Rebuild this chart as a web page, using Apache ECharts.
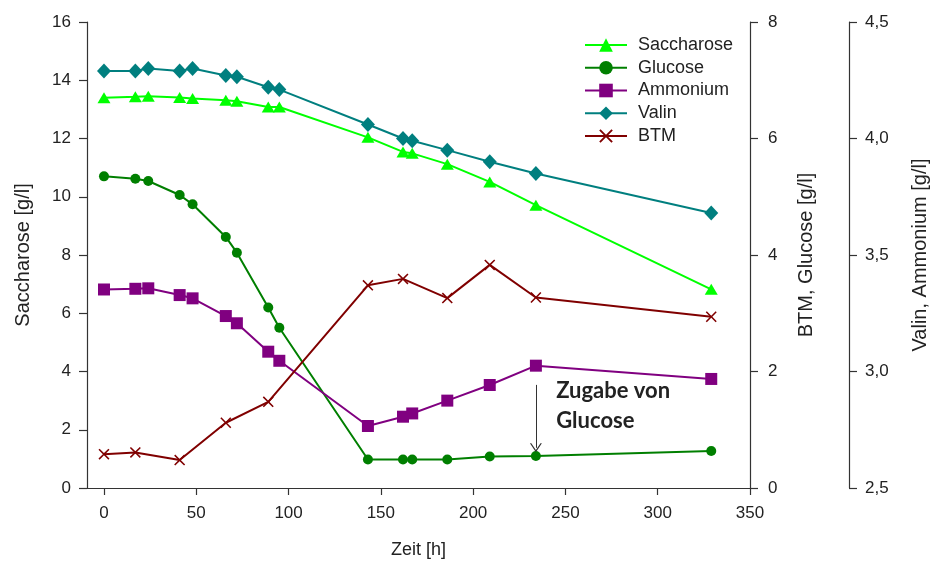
<!DOCTYPE html>
<html>
<head>
<meta charset="utf-8">
<script src="https://cdn.jsdelivr.net/npm/echarts@6/dist/echarts.min.js"></script>
<style>
  html, body { margin: 0; padding: 0; background: #ffffff; }
  #chart { width: 935px; height: 566px; }
</style>
</head>
<body>
<div id="chart"></div>
<script>
// Sampling times [h] shared by the substrate / amino acid measurements
const hours = [0, 17, 24, 41, 48, 66, 72, 89, 95, 143, 162, 167, 186, 209, 234, 329];
// Saccharose [g/l] (left axis)
const saccharose = [13.40, 13.43, 13.45, 13.41, 13.37, 13.31, 13.28, 13.08, 13.08, 12.04, 11.54, 11.49, 11.12, 10.51, 9.71, 6.82];
// Glucose [g/l] (middle axis)
const glucose = [5.35, 5.31, 5.27, 5.03, 4.87, 4.31, 4.04, 3.10, 2.75, 0.49, 0.49, 0.49, 0.49, 0.54, 0.55, 0.635];
// Ammonium [g/l] (outer right axis)
const ammonium = [3.352, 3.355, 3.357, 3.328, 3.314, 3.238, 3.207, 3.085, 3.046, 2.766, 2.806, 2.820, 2.875, 2.942, 3.025, 2.968];
// Valin [g/l] (outer right axis)
const valin = [4.29, 4.29, 4.30, 4.29, 4.30, 4.27, 4.265, 4.22, 4.21, 4.06, 4.00, 3.99, 3.95, 3.90, 3.85, 3.68];
// Biotrockenmasse: own sampling times
const btmHours = [0, 17, 41, 66, 89, 143, 162, 186, 209, 234, 329];
const btm = [0.58, 0.61, 0.48, 1.12, 1.48, 3.48, 3.59, 3.26, 3.83, 3.27, 2.94];
// Axis tick values
const timeTicks = [0, 50, 100, 150, 200, 250, 300, 350];
// Glucose feed marker (time, arrow from / to on the BTM/Glucose axis)
const feedHour = 234;
const feedArrow = [1.77, 0.69];
const feedText = 'Zugabe von\nGlucose';

const FONT = '"Liberation Sans", Arial, Helvetica, sans-serif';
const AXIS_COLOR = '#333333';
const TEXT_COLOR = '#222222';

const pairs = (xs, ys) => xs.map((x, i) => [x, ys[i]]);
const crossPath = 'path://M0,2 L2,0 L10,8 L18,0 L20,2 L12,10 L20,18 L18,20 L10,12 L2,20 L0,18 L8,10 Z';
const chevronPath = 'path://M0,10 L6,0 L12,10 L10.6,10 L6,2.6 L1.4,10 Z';

function lineSeries(name, color, yAxisIndex, data, symbol, size, extra) {
  return Object.assign({
    name, type: 'line', yAxisIndex, data,
    symbol, symbolSize: size,
    showAllSymbol: true,
    lineStyle: { color, width: 2 },
    itemStyle: { color, borderWidth: 0 },
    emphasis: { disabled: true },
    animation: false
  }, extra || {});
}

function yAxisBase(extra) {
  return Object.assign({
    type: 'value',
    nameLocation: 'middle',
    nameRotate: 90,
    nameTextStyle: { fontFamily: FONT, fontSize: 20, color: TEXT_COLOR },
    axisLine: { show: true, onZero: false, lineStyle: { color: AXIS_COLOR, width: 1.2 } },
    axisTick: { show: true, inside: false, length: 8, lineStyle: { color: AXIS_COLOR, width: 1.2 } },
    axisLabel: { fontFamily: FONT, fontSize: 17, color: TEXT_COLOR },
    splitLine: { show: false }
  }, extra);
}

const chart = echarts.init(document.getElementById('chart'), null, { renderer: 'canvas' });

const option = {
  backgroundColor: '#ffffff',
  animation: false,
  grid: { left: 87, right: 185, top: 22, bottom: 78, containLabel: false, outerBoundsMode: 'none' },
  legend: {
    orient: 'vertical',
    left: 579,
    top: 31,
    itemWidth: 42,
    itemHeight: 17,
    itemGap: 4.75,
    textStyle: { fontFamily: FONT, fontSize: 18, color: TEXT_COLOR, padding: [0, 0, 0, 6] },
    data: ['Saccharose', 'Glucose', 'Ammonium', 'Valin', 'BTM']
  },
  xAxis: {
    type: 'value',
    min: -9.2,
    max: 350,
    name: 'Zeit [h]',
    nameLocation: 'middle',
    nameGap: 53,
    nameTextStyle: { fontFamily: FONT, fontSize: 18, color: TEXT_COLOR },
    axisLine: { show: true, onZero: false, lineStyle: { color: AXIS_COLOR, width: 1.2 } },
    axisTick: { show: true, length: 7, customValues: timeTicks, lineStyle: { color: AXIS_COLOR, width: 1.2 } },
    axisLabel: { customValues: timeTicks, margin: 17, fontFamily: FONT, fontSize: 17, color: TEXT_COLOR },
    splitLine: { show: false }
  },
  yAxis: [
    yAxisBase({
      position: 'left', min: 0, max: 16, interval: 2,
      name: 'Saccharose [g/l]', nameGap: 54,
      axisLabel: { margin: 16, fontFamily: FONT, fontSize: 17, color: TEXT_COLOR }
    }),
    yAxisBase({
      position: 'right', offset: 0, min: 0, max: 8, interval: 2,
      name: 'BTM, Glucose [g/l]', nameGap: 46,
      axisLabel: { margin: 18, fontFamily: FONT, fontSize: 17, color: TEXT_COLOR }
    }),
    yAxisBase({
      position: 'right', offset: 99, min: 2.5, max: 4.5, interval: 0.5,
      name: 'Valin, Ammonium [g/l]', nameGap: 61,
      axisLabel: {
        margin: 16, fontFamily: FONT, fontSize: 17, color: TEXT_COLOR,
        formatter: v => v.toFixed(1).replace('.', ',')
      }
    })
  ],
  series: [
    lineSeries('Saccharose', '#00ff00', 0, pairs(hours, saccharose), 'triangle', [13, 11]),
    lineSeries('Glucose', '#007f00', 1, pairs(hours, glucose), 'circle', 10, {
      markLine: {
        silent: true,
        symbol: ['none', chevronPath],
        symbolSize: [12, 9],
        label: { show: false },
        lineStyle: { color: '#333333', width: 1, type: 'solid' },
        data: [[{ coord: [feedHour, feedArrow[0]] }, { coord: [feedHour, feedArrow[1]] }]]
      }
    }),
    lineSeries('Ammonium', '#800080', 2, pairs(hours, ammonium), 'rect', [12, 12]),
    lineSeries('Valin', '#007f7f', 2, pairs(hours, valin), 'diamond', [14, 15]),
    lineSeries('BTM', '#800000', 1, pairs(btmHours, btm), crossPath, 11)
  ]
};

chart.setOption(option);

// Annotation text placed next to the feed arrow, in data coordinates
const anchor = chart.convertToPixel({ xAxisIndex: 0, yAxisIndex: 1 }, [feedHour + 11, feedArrow[0] + 0.15]);
chart.setOption({
  graphic: [{
    type: 'text',
    x: anchor[0],
    y: anchor[1],
    style: {
      text: feedText,
      fontFamily: 'Lato, "Open Sans", sans-serif',
      fontWeight: 'bold',
      fontSize: 22,
      lineHeight: 30,
      fill: TEXT_COLOR,
      textVerticalAlign: 'top'
    }
  }]
});
</script>
</body>
</html>
